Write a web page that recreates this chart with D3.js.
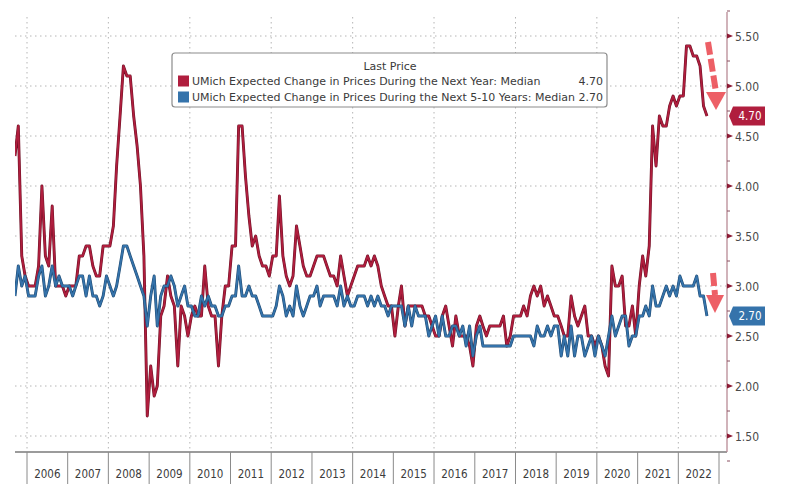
<!DOCTYPE html>
<html>
<head>
<meta charset="utf-8">
<script src="https://cdn.jsdelivr.net/npm/d3@7"></script>
<style>
  html, body { margin: 0; padding: 0; background: #fff; }
  svg { display: block; }
  text { font-family: "DejaVu Sans Condensed", "DejaVu Sans", sans-serif; }
  .leg { font-family: "DejaVu Sans", sans-serif; }
</style>
</head>
<body>
<svg id="chart" width="789" height="503"></svg>
<script>
// ---------------- DATA ----------------
// Monthly readings, first month = September 2005, last = September 2022
const firstMonth = { year: 2005, month: 9 };

// UMich expected change in prices during the next year: median (%)
const oneYear = [
  4.3, 4.6, 3.3, 3.1,                                              // 2005 Sep-Dec
  3.0, 3.0, 3.0, 3.2, 4.0, 3.3, 3.2, 3.8, 3.0, 3.0, 3.0, 2.9,      // 2006
  3.0, 3.0, 3.0, 3.3, 3.3, 3.4, 3.4, 3.2, 3.1, 3.1, 3.4, 3.4,      // 2007
  3.4, 3.6, 4.2, 4.7, 5.2, 5.1, 5.1, 4.7, 4.4, 4.0, 3.3, 1.7,      // 2008
  2.2, 1.9, 2.0, 2.7, 2.8, 3.1, 2.9, 2.8, 2.2, 2.8, 2.7, 2.5,      // 2009
  2.7, 2.8, 2.7, 2.7, 3.2, 2.8, 2.7, 2.7, 2.2, 2.7, 3.0, 3.0,      // 2010
  3.4, 3.4, 4.6, 4.6, 4.1, 3.7, 3.4, 3.5, 3.3, 3.2, 3.2, 3.1,      // 2011
  3.3, 3.3, 3.9, 3.3, 3.1, 3.0, 3.1, 3.6, 3.4, 3.2, 3.1, 3.1,      // 2012
  3.2, 3.3, 3.3, 3.3, 3.2, 3.1, 3.1, 3.0, 3.3, 3.1, 2.9, 3.0,      // 2013
  3.1, 3.2, 3.2, 3.2, 3.3, 3.2, 3.3, 3.2, 3.0, 2.9, 2.8, 2.8,      // 2014
  2.5, 2.8, 3.0, 2.6, 2.8, 2.8, 2.8, 2.8, 2.8, 2.7, 2.7, 2.6,      // 2015
  2.5, 2.5, 2.7, 2.8, 2.6, 2.4, 2.7, 2.5, 2.5, 2.5, 2.4, 2.2,      // 2016
  2.6, 2.7, 2.6, 2.5, 2.6, 2.6, 2.6, 2.6, 2.7, 2.4, 2.5, 2.7,      // 2017
  2.7, 2.7, 2.8, 2.7, 2.9, 3.0, 2.9, 3.0, 2.8, 2.9, 2.8, 2.7,      // 2018
  2.7, 2.6, 2.5, 2.5, 2.9, 2.7, 2.6, 2.7, 2.8, 2.5, 2.5, 2.4,      // 2019
  2.5, 2.4, 2.2, 2.1, 3.2, 3.0, 3.0, 3.1, 2.6, 2.6, 2.8, 2.5,      // 2020
  3.0, 3.3, 3.1, 3.4, 4.6, 4.2, 4.7, 4.6, 4.6, 4.8, 4.9, 4.8,      // 2021
  4.9, 4.9, 5.4, 5.4, 5.3, 5.3, 5.2, 4.8, 4.7                      // 2022 Jan-Sep
];

// UMich expected change in prices during the next 5-10 years: median (%)
const fiveTenYear = [
  2.9, 3.2, 3.0, 3.1,                                              // 2005 Sep-Dec
  2.9, 2.9, 2.9, 3.1, 3.2, 2.9, 3.0, 3.2, 3.0, 3.1, 3.0, 3.0,      // 2006
  3.0, 2.9, 3.0, 3.1, 3.1, 2.9, 3.1, 2.9, 2.9, 2.8, 2.9, 3.1,      // 2007
  3.0, 2.9, 3.0, 3.2, 3.4, 3.4, 3.3, 3.2, 3.1, 3.0, 2.9, 2.6,      // 2008
  2.9, 3.1, 2.6, 2.9, 3.0, 3.0, 3.1, 3.0, 2.8, 2.9, 3.0, 2.8,      // 2009
  2.8, 2.7, 2.7, 2.9, 2.8, 2.9, 2.8, 2.8, 2.7, 2.7, 2.8, 2.8,      // 2010
  2.9, 2.9, 3.2, 2.9, 2.9, 3.0, 2.9, 2.9, 2.8, 2.7, 2.7, 2.7,      // 2011
  2.7, 2.8, 3.0, 2.9, 2.7, 2.8, 2.7, 3.0, 2.8, 2.7, 2.8, 2.9,      // 2012
  2.9, 3.0, 2.8, 2.9, 2.9, 2.9, 2.9, 2.8, 3.0, 2.8, 2.9, 2.8,      // 2013
  2.8, 2.9, 2.9, 2.9, 2.8, 2.9, 2.8, 2.9, 2.8, 2.8, 2.7, 2.8,      // 2014
  2.8, 2.8, 2.8, 2.6, 2.8, 2.6, 2.8, 2.7, 2.7, 2.7, 2.5, 2.6,      // 2015
  2.7, 2.5, 2.7, 2.5, 2.5, 2.6, 2.6, 2.5, 2.6, 2.4, 2.6, 2.3,      // 2016
  2.5, 2.6, 2.4, 2.4, 2.4, 2.4, 2.4, 2.4, 2.4, 2.4, 2.4, 2.5,      // 2017
  2.5, 2.5, 2.5, 2.5, 2.5, 2.4, 2.6, 2.5, 2.5, 2.6, 2.5, 2.6,      // 2018
  2.6, 2.3, 2.5, 2.3, 2.6, 2.3, 2.5, 2.5, 2.3, 2.4, 2.5, 2.3,      // 2019
  2.5, 2.4, 2.3, 2.5, 2.7, 2.5, 2.6, 2.7, 2.7, 2.4, 2.5, 2.5,      // 2020
  2.7, 2.7, 2.8, 2.7, 3.0, 2.8, 2.8, 2.9, 3.0, 2.9, 3.0, 2.9,      // 2021
  3.1, 3.0, 3.0, 3.0, 3.0, 3.1, 2.9, 2.9, 2.7                      // 2022 Jan-Sep
];

const yearLabels = ["2006","2007","2008","2009","2010","2011","2012","2013","2014",
                    "2015","2016","2017","2018","2019","2020","2021","2022"];
const yTickValues = [1.5, 2.0, 2.5, 3.0, 3.5, 4.0, 4.5, 5.0, 5.5];
const legendTitle = "Last Price";
const seriesNames = ["UMich Expected Change in Prices During the Next Year: Median",
                     "UMich Expected Change in Prices During the Next 5-10 Years: Median"];
const lastValues = [4.70, 2.70];

// ---------------- LAYOUT ----------------
const plot = { left: 15, right: 727, top: 17, bottom: 452 };
const RED = "#b01e3e", RED_DARK = "#6e1226";
const BLUE = "#3573ab", BLUE_DARK = "#1f4a72";

const svg = d3.select("#chart");

const dateOf = i => new Date(firstMonth.year, firstMonth.month - 1 + i, 15);

const x = d3.scaleTime()
  .domain([new Date(2006, 0, 1), new Date(2023, 0, 1)])
  .range([27, 719]);
const y = d3.scaleLinear().domain([1.5, 5.5]).range([436, 36]);

// clip
svg.append("defs").append("clipPath").attr("id", "plotClip")
  .append("rect").attr("x", plot.left).attr("y", plot.top)
  .attr("width", plot.right - plot.left).attr("height", plot.bottom - plot.top);

// grid
const grid = svg.append("g");
grid.selectAll("line.h").data(yTickValues).join("line")
  .attr("x1", plot.left).attr("x2", plot.right)
  .attr("y1", d => y(d)).attr("y2", d => y(d))
  .attr("stroke", "#b5b5b5").attr("stroke-width", 1)
  .attr("stroke-dasharray", "1.5,3.5");
const vGridYears = d3.range(2006, 2023, 2).map(yr => new Date(yr, 0, 1));
grid.selectAll("line.v").data(vGridYears).join("line")
  .attr("x1", d => x(d)).attr("x2", d => x(d))
  .attr("y1", plot.top).attr("y2", plot.bottom)
  .attr("stroke", "#b5b5b5").attr("stroke-width", 1)
  .attr("stroke-dasharray", "1.5,3.5");

// lines
const line = d3.line().x((d, i) => x(dateOf(i))).y(d => y(d));
const lines = svg.append("g").attr("clip-path", "url(#plotClip)");
function drawSeries(vals, dark, col) {
  lines.append("path").datum(vals).attr("d", line)
    .attr("fill", "none").attr("stroke", dark).attr("stroke-width", 2.9)
    .attr("stroke-linejoin", "round");
  lines.append("path").datum(vals).attr("d", line)
    .attr("fill", "none").attr("stroke", col).attr("stroke-width", 1.8)
    .attr("stroke-linejoin", "round");
}
drawSeries(oneYear, RED_DARK, RED);
drawSeries(fiveTenYear, BLUE_DARK, BLUE);

// x axis baseline & year cells
svg.append("line").attr("x1", plot.left).attr("x2", plot.right)
  .attr("y1", plot.bottom).attr("y2", plot.bottom)
  .attr("stroke", "#7a7a7a").attr("stroke-width", 1.3);
const yearStarts = d3.range(2006, 2024).map(yr => new Date(yr, 0, 1));
svg.selectAll("line.sep").data(yearStarts).join("line")
  .attr("x1", d => x(d)).attr("x2", d => x(d))
  .attr("y1", plot.bottom).attr("y2", 484)
  .attr("stroke", "#8a8a8a").attr("stroke-width", 1);
svg.selectAll("text.year").data(yearLabels).join("text")
  .attr("x", d => (x(new Date(+d, 0, 1)) + x(new Date(+d + 1, 0, 1))) / 2)
  .attr("y", 478)
  .attr("text-anchor", "middle")
  .attr("font-size", 11.5).attr("fill", "#3c3c3c")
  .text(d => d);

// right axis
const ax = svg.append("g");
ax.append("line").attr("x1", plot.right).attr("x2", plot.right)
  .attr("y1", plot.top - 5).attr("y2", plot.bottom)
  .attr("stroke", "#b98a95").attr("stroke-width", 1.3);
const minorTicks = d3.range(1.25, 5.76, 0.5);
ax.selectAll("line.minor").data(minorTicks).join("line")
  .attr("x1", plot.right).attr("x2", plot.right + 3)
  .attr("y1", d => y(d)).attr("y2", d => y(d))
  .attr("stroke", "#8a5060").attr("stroke-width", 1);
ax.selectAll("path.tick").data(yTickValues).join("path")
  .attr("d", d => `M${plot.right},${y(d) - 2.5} L${plot.right + 6},${y(d)} L${plot.right},${y(d) + 2.5} Z`)
  .attr("fill", "#8c1a34");
ax.selectAll("text.tl").data(yTickValues).join("text")
  .attr("x", plot.right + 8).attr("y", d => y(d) + 4.5)
  .attr("font-size", 12).attr("fill", "#4a4a4a")
  .text(d => d3.format(".2f")(d));

// last value tags
const tagCols = [RED, BLUE];
lastValues.forEach((v, i) => {
  const cy = y(v);
  const x0 = plot.right + 2, x1 = plot.right + 6, x2 = 765, h = 9.5;
  svg.append("path")
    .attr("d", `M${x0},${cy} L${x1},${cy - h} L${x2},${cy - h} L${x2},${cy + h} L${x1},${cy + h} Z`)
    .attr("fill", tagCols[i]);
  svg.append("text").attr("x", (x1 + x2) / 2 + 1).attr("y", cy + 4.3)
    .attr("text-anchor", "middle").attr("font-size", 11.5).attr("fill", "#ffffff")
    .text(d3.format(".2f")(v));
});

// red dashed arrows (annotation)
function arrow(xs, ys, xe, ye, headW, headH) {
  const g = svg.append("g").attr("opacity", 0.82);
  g.append("line").attr("x1", xs).attr("y1", ys).attr("x2", xe).attr("y2", ye - headH)
    .attr("stroke", "#ea3d45").attr("stroke-width", 6).attr("stroke-dasharray", "13,4");
  g.append("path")
    .attr("d", `M${xe - headW / 2 - 1},${ye - headH} L${xe + headW / 2 + 1},${ye - headH} L${xe},${ye} Z`)
    .attr("fill", "#ea3d45");
}
arrow(708, 42, 716, 110, 18, 18);
arrow(713, 273, 715, 313, 16, 18);

// legend
const lg = svg.append("g");
lg.append("rect").attr("x", 172).attr("y", 53).attr("width", 435).attr("height", 54)
  .attr("rx", 3).attr("fill", "#fff").attr("stroke", "#8c8c8c").attr("stroke-width", 1.2);
lg.append("text").attr("class", "leg").attr("x", 390).attr("y", 70).attr("text-anchor", "middle")
  .attr("font-size", 11).attr("fill", "#3a3a3a").text(legendTitle);
const legCols = [RED, BLUE];
seriesNames.forEach((name, i) => {
  const yy = 81 + i * 16;
  lg.append("rect").attr("x", 178).attr("y", yy - 5.5).attr("width", 11).attr("height", 11)
    .attr("fill", legCols[i]);
  lg.append("text").attr("class", "leg").attr("x", 192).attr("y", yy + 4).attr("font-size", 11)
    .attr("fill", "#3a3a3a").text(name);
  lg.append("text").attr("class", "leg").attr("x", 603).attr("y", yy + 4).attr("text-anchor", "end")
    .attr("font-size", 11).attr("fill", "#3a3a3a").text(d3.format(".2f")(lastValues[i]));
});
</script>
</body>
</html>
